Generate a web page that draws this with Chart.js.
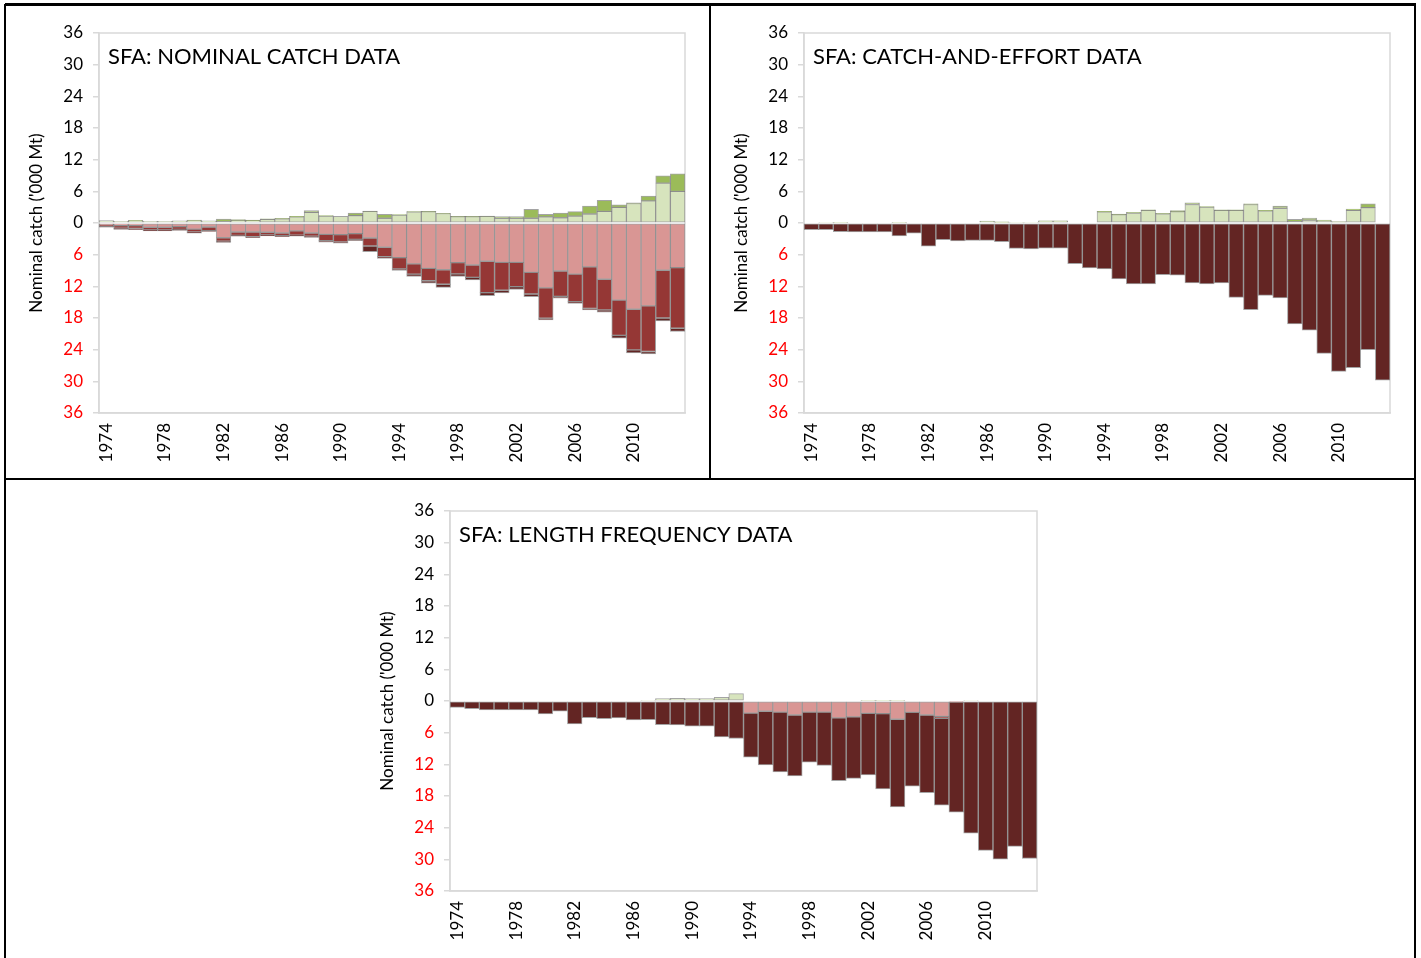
<!DOCTYPE html>
<html>
<head>
<meta charset="utf-8">
<script src="https://cdn.jsdelivr.net/npm/chart.js@4.4.0/dist/chart.umd.min.js"></script>
<style>
  body { margin: 0; background: #fff; width: 1421px; height: 958px; position: relative; overflow: hidden; }
  .ln { position: absolute; background: #000; }
  canvas { position: absolute; }
</style>
</head>
<body>
<div class="ln" style="left:5px;top:3px;width:1411px;height:3px"></div>
<div class="ln" style="left:4px;top:4px;width:2px;height:954px"></div>
<div class="ln" style="left:709px;top:4px;width:2px;height:476px"></div>
<div class="ln" style="left:1414px;top:4px;width:2px;height:954px"></div>
<div class="ln" style="left:5px;top:478px;width:1411px;height:2px"></div>

<canvas id="c1" width="674" height="453" style="left:12px;top:20px"></canvas>
<canvas id="c2" width="674" height="453" style="left:717px;top:20px"></canvas>
<canvas id="c3" width="675" height="453" style="left:363px;top:498px"></canvas>

<script>
// years 1974..2013
const years = [1974,1975,1976,1977,1978,1979,1980,1981,1982,1983,1984,1985,1986,1987,1988,1989,1990,1991,1992,1993,
               1994,1995,1996,1997,1998,1999,2000,2001,2002,2003,2004,2005,2006,2007,2008,2009,2010,2011,2012,2013];
const tickYears = [1974,1978,1982,1986,1990,1994,1998,2002,2006,2010];
const yTicks = [-36,-30,-24,-18,-12,-6,0,6,12,18,24,30,36];

// panel 1: nominal catch ('000 t); lower parts are shown below zero
const nomLightGreen = [0.45,0.3,0.35,0.3,0.3,0.4,0.4,0.4,0.25,0.45,0.45,0.7,0.8,1.15,2.0,1.3,1.25,1.4,2.2,0.9,
                       1.5,2.1,2.15,1.8,1.2,1.2,1.25,0.9,0.9,0.9,1.15,1.0,1.3,1.7,2.2,2.95,3.7,4.2,7.55,6.0];
const nomDarkGreen  = [0,0,0.15,0,0,0,0.15,0,0.5,0.2,0.1,0.1,0.1,0.1,0.35,0.1,0,0.5,0.05,0.75,
                       0.1,0.05,0.05,0.05,0.05,0.05,0.05,0.3,0.3,1.7,0.5,0.9,0.85,1.5,2.1,0.5,0.1,0.9,1.4,3.3];
const nomPink       = [0.3,0.5,0.5,0.8,0.8,0.7,1.15,0.75,2.8,1.7,1.7,1.75,1.9,1.5,1.9,2.15,2.2,2.0,2.85,4.6,
                       6.55,7.75,8.6,8.85,7.5,7.95,7.25,7.45,7.45,9.35,12.3,9.1,9.7,8.3,10.65,14.6,16.35,15.7,8.95,8.45];
const nomRed        = [0.4,0.5,0.55,0.5,0.5,0.5,0.55,0.7,0.65,0.65,0.9,0.5,0.5,0.8,0.6,1.2,1.4,1.1,1.5,1.8,
                       2.15,1.95,2.35,2.75,2.15,2.35,5.95,5.3,4.6,4.1,5.75,4.8,5.2,7.9,5.8,6.7,7.7,8.65,9.05,11.5];
const nomDarkRed    = [0.1,0.2,0.2,0.2,0.2,0.2,0.25,0.15,0.25,0.15,0.2,0.2,0.2,0.2,0.25,0.3,0.2,0.25,1.1,0.3,
                       0.3,0.4,0.45,0.6,0.45,0.5,0.55,0.5,0.55,0.5,0.3,0.35,0.35,0.25,0.45,0.5,0.55,0.45,0.55,0.6];

// panel 2: catch-and-effort data
const ceLightGreen = [0,0.15,0.1,0,0,0,0.1,0,0,0,0,0,0.3,0.15,0.15,0.15,0.35,0.35,0,0,
                      2.1,1.6,1.9,2.4,1.75,2.15,3.5,3.0,2.4,2.4,3.5,2.3,2.8,0.25,0.55,0.3,0,2.4,2.9,0];
const ceDarkGreen  = [0,0,0,0,0,0,0,0,0,0,0,0,0.05,0.05,0,0,0.05,0.05,0,0,
                      0.1,0.1,0.1,0.1,0.1,0.2,0.3,0.1,0.1,0.1,0.15,0.1,0.4,0.45,0.4,0.25,0.25,0.25,0.75,0];
const cePink       = new Array(40).fill(0);
const ceRed        = new Array(40).fill(0);
const ceDarkRed    = [1.25,1.25,1.65,1.7,1.7,1.7,2.45,1.95,4.4,3.15,3.4,3.3,3.3,3.55,4.8,4.9,4.75,4.75,7.7,8.5,
                      8.7,10.6,11.55,11.55,9.8,9.9,11.35,11.55,11.35,14.1,16.4,13.7,14.2,19.1,20.3,24.7,28.1,27.4,24.0,29.8];

// panel 3: length frequency data
const lfLightGreen = [0,0,0,0,0,0,0,0,0,0,0,0,0,0.15,0.45,0.5,0.45,0.45,0.7,1.4,
                      0,0,0,0,0,0,0,0,0.1,0.1,0.1,0,0,0,0,0.15,0,0,0,0];
const lfDarkGreen  = new Array(40).fill(0);
const lfPink       = [0,0,0,0,0,0,0,0,0,0,0,0,0,0,0,0,0,0,0,0,
                      2.3,1.95,2.1,2.65,2.1,2.1,3.2,3.0,2.35,2.4,3.45,2.15,2.65,2.9,0,0,0,0,0,0];
const lfRed        = [0,0,0,0,0,0,0,0,0,0,0,0,0,0,0,0,0,0,0,0,
                      0,0,0,0,0,0,0,0,0,0,0,0,0,0.4,0.2,0,0,0,0,0];
const lfDarkRed    = [1.2,1.45,1.7,1.7,1.7,1.7,2.45,1.95,4.35,3.15,3.35,3.2,3.6,3.55,4.5,4.55,4.75,4.75,6.8,7.1,
                      8.35,10.15,11.35,11.55,9.5,10.1,11.9,11.65,11.65,14.25,16.6,14.0,14.7,16.45,20.85,25.05,28.3,29.95,27.55,29.85];

Chart.defaults.font.family = 'Lato, "Open Sans", sans-serif';
Chart.defaults.color = '#000';

const pos = arr => arr.map(v => v ? v : null);
const neg = arr => arr.map(v => v ? -v : null);

function makePanel(id, title, lg, dg, pk, rd, dr) {
  const barStyle = { borderColor: 'rgba(90,90,90,0.55)', borderWidth: 1, borderSkipped: false,
                     barPercentage: 1, categoryPercentage: 1 };
  const frame = {
    id: 'frame' + id,
    beforeDatasetsDraw(chart) {
      const a = chart.chartArea, c = chart.ctx;
      c.save();
      c.strokeStyle = '#d9d9d9';
      c.lineWidth = 1.5;
      c.strokeRect(a.left, a.top, a.right - a.left, a.bottom - a.top);
      c.fillStyle = '#000';
      c.font = '22px Lato, "Open Sans", sans-serif';
      c.textBaseline = 'middle';
      c.fillText(title, a.left + 9, a.top + 24);
      c.restore();
    }
  };
  new Chart(document.getElementById(id), {
    type: 'bar',
    data: {
      labels: years.map(String),
      datasets: [
        Object.assign({ label: 'a', data: pos(lg), backgroundColor: '#d7e4bd' }, barStyle),
        Object.assign({ label: 'b', data: pos(dg), backgroundColor: '#9bbb59' }, barStyle),
        Object.assign({ label: 'c', data: neg(pk), backgroundColor: '#d99694' }, barStyle),
        Object.assign({ label: 'd', data: neg(rd), backgroundColor: '#953735' }, barStyle),
        Object.assign({ label: 'e', data: neg(dr), backgroundColor: '#632523' }, barStyle)
      ]
    },
    options: {
      responsive: false,
      animation: false,
      layout: { padding: { top: 13, right: 1, left: 0, bottom: 0 } },
      plugins: { legend: { display: false }, tooltip: { enabled: false } },
      scales: {
        x: {
          stacked: true,
          grid: { display: false, drawTicks: false },
          border: { color: '#d9d9d9', width: 1.5 },
          ticks: {
            autoSkip: false, maxRotation: 90, minRotation: 90, padding: 10,
            font: { size: 17 }, color: '#000',
            callback: (v, i) => tickYears.includes(years[i]) ? String(years[i]) : ''
          },
          afterFit: s => { s.height = 60; s.paddingLeft = 0; s.paddingRight = 0; }
        },
        y: {
          stacked: true,
          min: -36, max: 36,
          afterBuildTicks: s => { s.ticks = yTicks.map(v => ({ value: v })); },
          grid: { drawOnChartArea: false, tickLength: 6, color: '#d9d9d9', lineWidth: 1.5 },
          border: { color: '#d9d9d9', width: 1.5 },
          ticks: {
            padding: 10,
            font: { size: 17 },
            color: c => c.tick.value < 0 ? '#ff0000' : '#000000',
            callback: v => String(Math.abs(v))
          },
          title: {
            display: true, text: "Nominal catch ('000 Mt)", color: '#000',
            font: { size: 17 }, padding: { top: 14, bottom: 0 }
          },
          afterFit: s => { s.width = 87; s.paddingTop = 0; s.paddingBottom = 0; }
        }
      }
    },
    plugins: [frame]
  });
}

makePanel('c1', 'SFA: NOMINAL CATCH DATA', nomLightGreen, nomDarkGreen, nomPink, nomRed, nomDarkRed);
makePanel('c2', 'SFA: CATCH-AND-EFFORT DATA', ceLightGreen, ceDarkGreen, cePink, ceRed, ceDarkRed);
makePanel('c3', 'SFA: LENGTH FREQUENCY DATA', lfLightGreen, lfDarkGreen, lfPink, lfRed, lfDarkRed);
</script>
</body>
</html>
